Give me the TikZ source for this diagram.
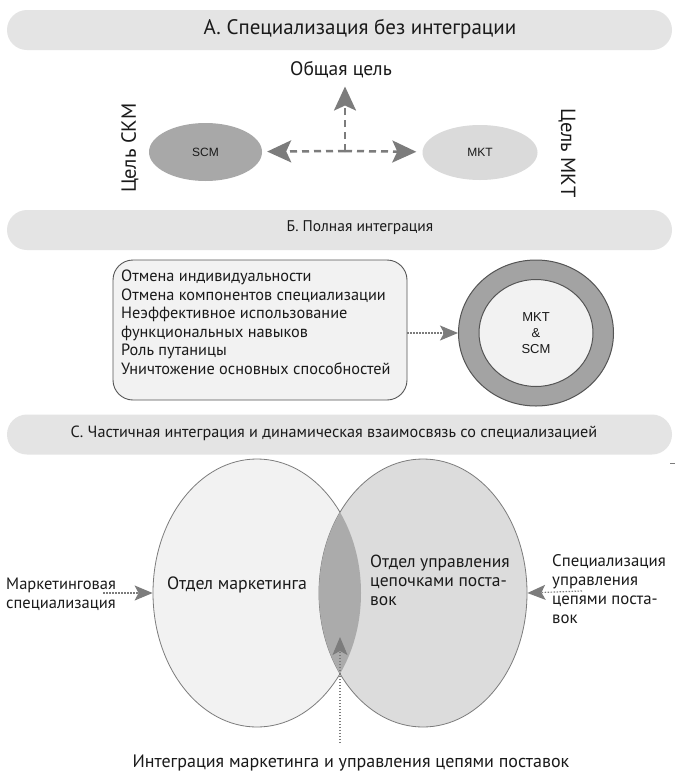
\documentclass[tikz,border=0pt]{standalone}
\usepackage{fontspec}
\setmainfont{PT Sans}
\newfontfamily\arialf{Liberation Sans}
\usetikzlibrary{arrows.meta,shapes.geometric}
\definecolor{bannergray}{HTML}{E4E4E4}
\definecolor{arrgray}{HTML}{7C7C7C}
\definecolor{scmgray}{HTML}{A8A8A8}
\definecolor{mktgray}{HTML}{DADADA}
\definecolor{ringgray}{HTML}{A3A3A3}
\definecolor{paleg}{HTML}{F2F2F2}
\definecolor{lensgray}{HTML}{ABABAB}
\definecolor{rightg}{HTML}{DCDCDC}
\definecolor{edgeg}{HTML}{555555}
\definecolor{txt}{HTML}{1A1A1A}
\begin{document}
\begin{tikzpicture}[x=1pt,y=-1pt,
  bannerbox/.style={fill=bannergray, draw=none, rounded corners=20pt, minimum width=665pt, minimum height=40pt, inner sep=0pt},
  lbl/.style={text=txt, inner sep=0pt},
  dasharr/.style={draw=arrgray, line width=2.5pt, dash pattern=on 7pt off 5pt},
  bigtipA/.style={-{Stealth[length=24pt,width=22pt,inset=5pt,fill=arrgray]}},
  dotarr/.style={draw=arrgray, line width=1.2pt, dash pattern=on 1.5pt off 1.5pt, -{Stealth[length=18pt,width=15pt,inset=4pt,fill=arrgray]}},
  bigell/.style={ellipse, draw=arrgray, line width=0.8pt, minimum width=208pt, minimum height=268pt, inner sep=0pt}
]
\useasboundingbox (0,0) rectangle (677,774);
\fill[white] (0,0) rectangle (677,774);

% ---------- Section A ----------
\node[bannerbox] (bannerA) at (339.5,30) {};
\node[lbl, font=\fontsize{21}{25}\selectfont] (titleA) at (360,29) {А. Специализация без интеграции};

\node[lbl, font=\fontsize{19.5}{23}\selectfont] (goal) at (341,70) {Общая цель};
\node[ellipse, fill=scmgray, minimum width=113pt, minimum height=58pt, inner sep=0pt, font=\arialf\fontsize{12}{14}\selectfont, text=txt] (scm) at (205.5,152) {SCM};
\node[ellipse, fill=mktgray, minimum width=115pt, minimum height=55pt, inner sep=0pt, font=\arialf\fontsize{12}{14}\selectfont, text=txt] (mkt) at (480,152.5) {MKT};
\coordinate (hub) at (345,151);
\draw[dasharr, bigtipA, shorten >=5pt] (hub) -- (scm);
\draw[dasharr, bigtipA, shorten >=6pt] (hub) -- (mkt);
\draw[dasharr, bigtipA, shorten >=8pt] (hub) -- (hub |- goal.south);
\node[lbl, rotate=90, font=\fontsize{20.5}{24}\selectfont] (goalscm) at (130,148) {Цель СКМ};
\node[lbl, rotate=-90, font=\fontsize{20.5}{24}\selectfont] (goalmkt) at (567,153) {Цель МКТ};

% ---------- Section B ----------
\node[bannerbox] (bannerB) at (339.5,230) {};
\node[lbl, font=\fontsize{15.5}{18}\selectfont] (titleB) at (360,228) {Б. Полная интеграция};

\node[draw=edgeg, fill=paleg, line width=0.9pt, rounded corners=20pt, minimum width=294pt, minimum height=140pt, inner sep=0pt] (box) at (260,330) {};
\node[lbl, anchor=north west, align=left, font=\fontsize{16.3}{18.5}\selectfont] (boxtext) at (121,270) {Отмена индивидуальности\\Отмена компонентов специализации\\Неэффективное использование\\функциональных навыков\\Роль путаницы\\Уничтожение основных способностей};

\node[ellipse, draw=edgeg, fill=ringgray, line width=1pt, minimum width=155pt, minimum height=146pt, inner sep=0pt] (ring) at (536,333) {};
\node[ellipse, draw=edgeg, fill=paleg, line width=1pt, minimum width=114pt, minimum height=107pt, inner sep=0pt, align=center, text=txt, font=\arialf\fontsize{13}{16}\selectfont] (core) at (536,333) {MKT\\\&\\SCM};
\draw[dotarr] (box.east |- ring) -- (ring.west);

% ---------- Section C ----------
\node[bannerbox] (bannerC) at (339.5,434.5) {};
\node[lbl, font=\fontsize{16.2}{19}\selectfont] (titleC) at (334,433) {С. Частичная интеграция и динамическая взаимосвязь со специализацией};
\draw[arrgray, line width=0.8pt] (670,463) -- (675,463);

\node[bigell, fill=paleg] (left) at (257,593) {};
\node[bigell, fill=rightg] (right) at (423,593) {};
\begin{scope}
  \clip (257,593) ellipse [x radius=104, y radius=134];
  \fill[lensgray] (423,593) ellipse [x radius=104, y radius=134];
\end{scope}

\node[lbl, font=\fontsize{17.8}{19}\selectfont] (mkttext) at (237,585) {Отдел маркетинга};
\node[lbl, anchor=north west, align=left, font=\fontsize{17.5}{19}\selectfont] (scmtext) at (370,555) {Отдел управления\\цепочками поста-\\вок};
\node[lbl, anchor=west, align=left, font=\fontsize{16.5}{19}\selectfont] (mktspec) at (6,594) {Маркетинговая\\специализация};
\node[lbl, anchor=north west, align=left, font=\fontsize{16.8}{19}\selectfont] (scmspec) at (552,554) {Специализация\\управления\\цепями поста-\\вок};

\coordinate (lstart) at (103,593);
\coordinate (rstart) at (582,591);
\coordinate (bstart) at (340,743);
\coordinate (btip) at (340,637);
\draw[dotarr] (lstart) -- (left.west);
\draw[dotarr] (rstart) -- (right.east);
\draw[dotarr] (bstart) -- (btip);

\node[lbl, font=\fontsize{18}{21}\selectfont] (bottomtext) at (351,763) {Интеграция маркетинга и управления цепями поставок};
\end{tikzpicture}
\end{document}
